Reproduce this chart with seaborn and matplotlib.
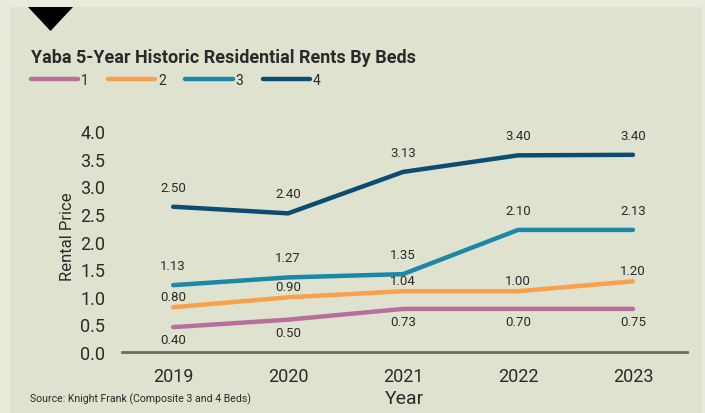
import matplotlib
matplotlib.use("Agg")
import matplotlib.pyplot as plt
import seaborn as sns
import pandas as pd
from matplotlib.patches import Rectangle, Polygon
from matplotlib.lines import Line2D

years = [2019, 2020, 2021, 2022, 2023]
beds = ["1", "2", "3", "4"]
rent_1 = [0.45, 0.585, 0.78, 0.78, 0.78]
rent_2 = [0.81, 0.99, 1.10, 1.10, 1.28]
rent_3 = [1.21, 1.35, 1.41, 2.21, 2.21]
rent_4 = [2.63, 2.51, 3.26, 3.56, 3.57]
labels_1 = ["0.40", "0.50", "0.73", "0.70", "0.75"]
labels_2 = ["0.80", "0.90", "1.04", "1.00", "1.20"]
labels_3 = ["1.13", "1.27", "1.35", "2.10", "2.13"]
labels_4 = ["2.50", "2.40", "3.13", "3.40", "3.40"]
colors = ["#b86f9b", "#f9a04c", "#1a88a6", "#0b4c70"]

series = [rent_1, rent_2, rent_3, rent_4]
labels = [labels_1, labels_2, labels_3, labels_4]
rows = []
for b, vals in zip(beds, series):
    for y, v in zip(years, vals):
        rows.append({"Year": y, "Beds": b, "Rent": v})
df = pd.DataFrame(rows)

sns.set_theme(style="white")
plt.rcParams["font.family"] = ["Roboto", "DejaVu Sans"]

W, H = 705, 414
fig = plt.figure(figsize=(W / 100, H / 100), dpi=100)
fig.patch.set_facecolor("#e9eadb")
fig.patches.append(Rectangle((10 / W, 0), (702 - 10) / W, 1 - 8 / H,
                             transform=fig.transFigure, facecolor="#e0e2d0",
                             edgecolor="none", zorder=-2))
fig.patches.append(Polygon([(28 / W, 1 - 8 / H), (73 / W, 1 - 8 / H), (50.5 / W, 1 - 32 / H)],
                           closed=True, transform=fig.transFigure, facecolor="black",
                           edgecolor="none", zorder=-1))

ax = fig.add_axes([122 / W, (H - 353) / H, (687 - 122) / W, 232 / H])
ax.set_facecolor("none")
sns.lineplot(data=df, x="Year", y="Rent", hue="Beds", palette=colors, linewidth=3.2,
             ax=ax, legend=False, solid_capstyle="round")
ax.set_xlim(2018.555, 2023.47)
ax.set_ylim(0, 4.2)
ax.set_yticks([0, 0.5, 1.0, 1.5, 2.0, 2.5, 3.0, 3.5, 4.0])
ax.set_yticklabels([f"{t:.1f}" for t in ax.get_yticks()], fontsize=13, color="#2a2a2a")
ax.set_xticks(years)
ax.set_xticklabels([str(y) for y in years], fontsize=13, color="#2a2a2a")
ax.tick_params(axis="y", length=0, pad=12)
ax.tick_params(axis="x", length=0, pad=11)
for s in ["top", "right", "left"]:
    ax.spines[s].set_visible(False)
ax.spines["bottom"].set_color("#6b6c5f")
ax.spines["bottom"].set_linewidth(2)
ax.set_ylabel("Rental Price", fontsize=12, color="#2a2a2a", labelpad=4)
ax.set_xlabel("Year", fontsize=14, color="#2a2a2a", labelpad=3)

offsets = [-9, 8, 14, 14]
for vals, labs, off in zip(series, labels, offsets):
    for x, v, t in zip(years, vals, labs):
        ax.annotate(t, (x, v), xytext=(0, off), textcoords="offset points",
                    ha="center", va="center", fontsize=9.5, color="#2a2a2a")

fig.text(31 / W, 1 - 58 / H, "Yaba 5-Year Historic Residential Rents By Beds",
         fontsize=13, fontweight="bold", color="#2a2a2a", va="center", ha="left")

handles = [Line2D([0], [0], color=c, linewidth=3.2, solid_capstyle="round") for c in colors]
leg = fig.legend(handles, beds, loc="center left", bbox_to_anchor=(31 / W, 1 - 81 / H),
                 ncol=4, frameon=False, fontsize=10, handlelength=3.4, handletextpad=0.2,
                 columnspacing=1.4, borderpad=0, borderaxespad=0)
for t in leg.get_texts():
    t.set_color("#2a2a2a")

fig.text(30 / W, 1 - 399 / H, "Source: Knight Frank (Composite 3 and 4 Beds)",
         fontsize=7.6, color="#2a2a2a", va="center", ha="left")

fig.savefig("out.png", dpi=100, facecolor=fig.get_facecolor())
